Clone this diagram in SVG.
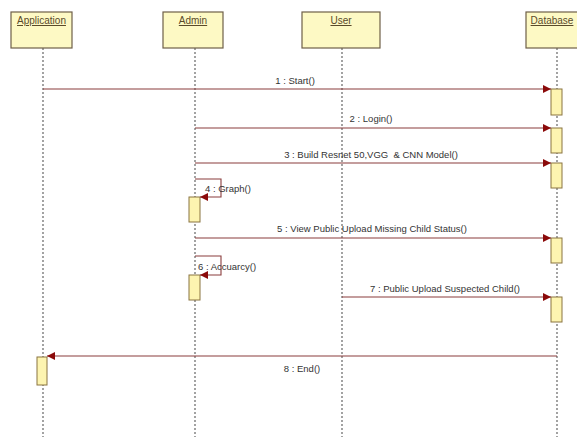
<svg xmlns="http://www.w3.org/2000/svg" width="577" height="437" viewBox="0 0 577 437">
<style>
.box{fill:#fdf9c4;stroke:#6e5f48;stroke-width:1.2}
.hd{font-family:"Liberation Sans",Arial,sans-serif;font-size:10px;fill:#5a4a2a;text-anchor:middle;text-decoration:underline}
.life{stroke:#666;stroke-width:1.2;stroke-dasharray:2,2;fill:none}
.act{fill:#fdf4b0;stroke:#8a7440;stroke-width:1}
.msg{stroke:#8a3c3c;stroke-width:1.1;fill:none}
.lbl{font-family:"Liberation Sans",Arial,sans-serif;font-size:9.5px;fill:#333;text-anchor:middle}
.lbs{font-family:"Liberation Sans",Arial,sans-serif;font-size:9.5px;fill:#333}
</style>
<defs>
<marker id="ah" viewBox="0 0 10 10" refX="10" refY="5" markerWidth="9" markerHeight="8" markerUnits="userSpaceOnUse" orient="auto">
<path d="M0,0 L10,5 L0,10 Z" fill="#8b0a0a"/>
</marker>
</defs>
<rect width="577" height="437" fill="#ffffff"/>
<g id="application">
<line class="life" x1="43" y1="48" x2="43" y2="437"/>
<rect class="box" x="11" y="12" width="61" height="36"/>
<text class="hd" x="41.5" y="24">Application</text>
<rect class="act" x="37" y="357" width="10" height="28"/>
</g>
<g id="admin">
<line class="life" x1="195" y1="48" x2="195" y2="437"/>
<rect class="box" x="163" y="12" width="60" height="36"/>
<text class="hd" x="193" y="24">Admin</text>
<rect class="act" x="189" y="197" width="11" height="25"/>
<rect class="act" x="189" y="275" width="11" height="25"/>
</g>
<g id="user">
<line class="life" x1="342" y1="48" x2="342" y2="437"/>
<rect class="box" x="302" y="12" width="78" height="36"/>
<text class="hd" x="341" y="24">User</text>
</g>
<g id="database">
<line class="life" x1="557" y1="48" x2="557" y2="437"/>
<rect class="box" x="526" y="12" width="62" height="36"/>
<text class="hd" x="552" y="24">Database</text>
<rect class="act" x="551" y="89" width="11" height="26"/>
<rect class="act" x="551" y="128" width="11" height="25"/>
<rect class="act" x="551" y="163" width="11" height="25"/>
<rect class="act" x="551" y="238" width="11" height="25"/>
<rect class="act" x="551" y="297" width="11" height="25"/>
</g>
<g id="connectors">
<line class="msg" x1="43" y1="89" x2="551" y2="89" marker-end="url(#ah)"/>
<text class="lbl" x="295" y="84">1 : Start()</text>
<line class="msg" x1="195" y1="128" x2="551" y2="128" marker-end="url(#ah)"/>
<text class="lbl" x="371" y="122">2 : Login()</text>
<line class="msg" x1="195" y1="163" x2="551" y2="163" marker-end="url(#ah)"/>
<text class="lbl" x="371" y="158">3 : Build Resnet 50,VGG &#160;&amp; CNN Model()</text>
<polyline class="msg" points="195,179 221,179 221,197 200,197" marker-end="url(#ah)"/>
<text class="lbs" x="205" y="192">4 : Graph()</text>
<line class="msg" x1="195" y1="238" x2="551" y2="238" marker-end="url(#ah)"/>
<text class="lbl" x="372" y="232">5 : View Public Upload Missing Child Status()</text>
<polyline class="msg" points="195,256 221,256 221,275 200,275" marker-end="url(#ah)"/>
<text class="lbs" x="198" y="270">6 : Accuarcy()</text>
<line class="msg" x1="342" y1="297" x2="551" y2="297" marker-end="url(#ah)"/>
<text class="lbl" x="445" y="292">7 : Public Upload Suspected Child()</text>
<line class="msg" x1="557" y1="356" x2="47" y2="356" marker-end="url(#ah)"/>
<text class="lbl" x="302" y="372">8 : End()</text>
</g>
</svg>
